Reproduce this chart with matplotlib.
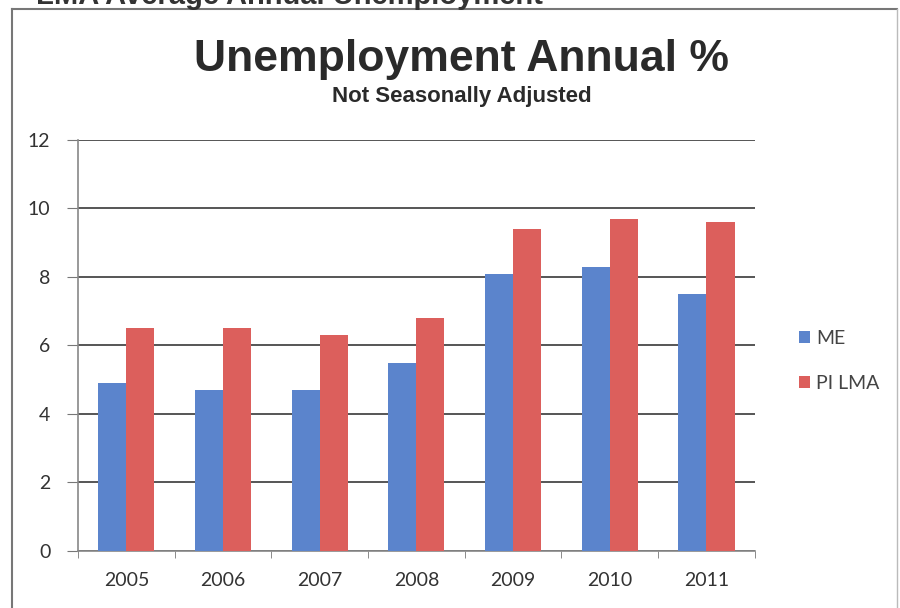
import matplotlib.pyplot as plt
import numpy as np
from matplotlib.lines import Line2D

years = ["2005", "2006", "2007", "2008", "2009", "2010", "2011"]
me = [4.9, 4.7, 4.7, 5.5, 8.1, 8.3, 7.5]
pi_lma = [6.5, 6.5, 6.3, 6.8, 9.4, 9.7, 9.6]
series_names = ["ME", "PI LMA"]
y_ticks = [0, 2, 4, 6, 8, 10, 12]

blue = "#5b84cc"
red = "#dc5f5c"

fig = plt.figure(figsize=(9, 6.08), dpi=100)
ax = fig.add_axes([0.0867, 0.0938, 0.752, 0.676])

x = np.arange(len(years))
w = 0.29
ax.bar(x - w / 2, me, w, color=blue, label=series_names[0], zorder=3)
ax.bar(x + w / 2, pi_lma, w, color=red, label=series_names[1], zorder=3)

ax.set_xlim(-0.5, len(years) - 0.5)
ax.set_ylim(0, 12)
ax.set_yticks(y_ticks)
ax.yaxis.grid(True, color="#555555", linewidth=1.4, zorder=0)
ax.set_axisbelow(True)

ax.set_xticks(x)
ax.set_xticklabels(years, fontsize=14, color="#333333", family="Lato")
ax.set_xticks(np.arange(len(years) + 1) - 0.5, minor=True)
ax.tick_params(axis="x", which="major", length=0, pad=15)
ax.tick_params(axis="x", which="minor", length=5, color="#777777", direction="out")
ax.tick_params(axis="y", length=8, color="#777777", labelsize=14,
               labelcolor="#333333", pad=12)
for lab in ax.get_yticklabels():
    lab.set_family("Lato")

for s in ["top", "right"]:
    ax.spines[s].set_visible(False)
ax.spines["left"].set_color("#888888")
ax.spines["bottom"].set_color("#888888")
ax.spines["left"].set_linewidth(1.2)
ax.spines["bottom"].set_linewidth(1.2)

leg = ax.legend(loc="center left", bbox_to_anchor=(1.04, 0.462), frameon=False,
                handlelength=0.55, handleheight=0.55, handletextpad=0.3,
                labelspacing=1.45, prop={"family": "Lato", "size": 14})
for t in leg.get_texts():
    t.set_color("#444444")

fig.text(0.513, 0.902, "Unemployment Annual %", ha="center", va="center",
         fontsize=32, fontweight="bold", family="Liberation Sans", color="#2a2a2a")
fig.text(0.513, 0.841, "Not Seasonally Adjusted", ha="center", va="center",
         fontsize=16, fontweight="bold", family="Liberation Sans", color="#2a2a2a")

# scanned heading, cut off at the top edge like in the source
fig.text(0.04, 1.006, "LMA Average Annual Unemployment", ha="left", va="center",
         fontsize=21, fontweight="bold", family="Liberation Sans", color="#333333")

# chart frame
fig.add_artist(Line2D([0.0133, 0.0133], [0, 0.985], color="#777777", lw=1.5))
fig.add_artist(Line2D([0.0133, 0.997], [0.985, 0.985], color="#777777", lw=1.5))
fig.add_artist(Line2D([0.997, 0.997], [0, 0.985], color="#bbbbbb", lw=1.0))

fig.savefig("out.png", dpi=100)
